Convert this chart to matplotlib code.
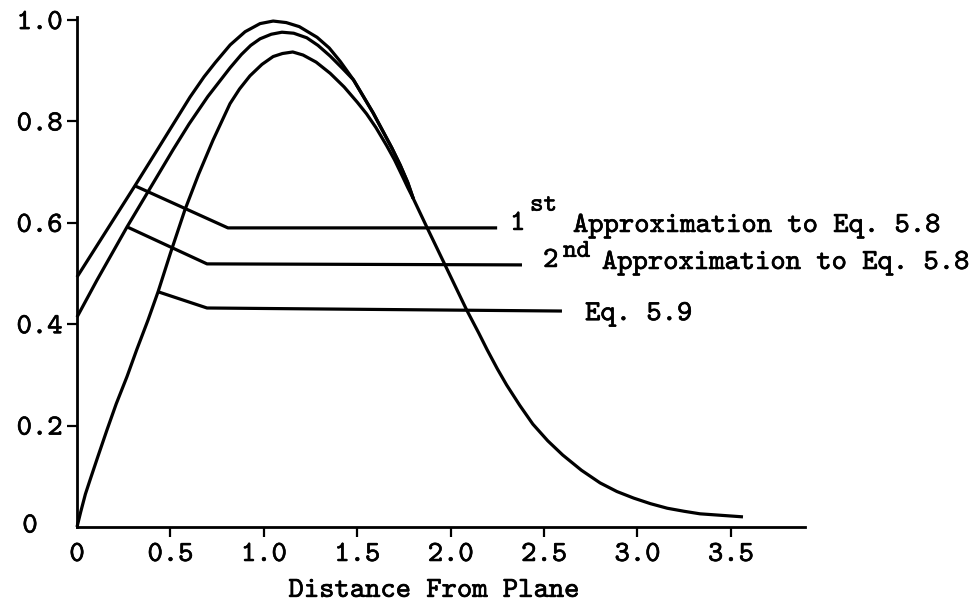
import matplotlib
matplotlib.use("Agg")
import matplotlib.pyplot as plt
import matplotlib.patheffects as pe

# ---- data ----
# 1st Approximation to Eq. 5.8 (merges with the other curves near x = 1.8)
x_first = [0.0, 0.31, 0.43, 0.605, 0.68, 0.74, 0.82, 0.90, 0.98, 1.05, 1.12, 1.19,
           1.285, 1.35, 1.41, 1.48, 1.585, 1.685, 1.73, 1.77, 1.80]
y_first = [0.493, 0.673, 0.744, 0.848, 0.888, 0.916, 0.951, 0.977, 0.993, 0.998, 0.995, 0.987,
           0.966, 0.945, 0.918, 0.882, 0.817, 0.748, 0.714, 0.680, 0.648]

# 2nd Approximation to Eq. 5.8
x_second = [0.0, 0.107, 0.268, 0.514, 0.60, 0.70, 0.82, 0.88, 0.93, 0.98, 1.04, 1.097,
            1.16, 1.23, 1.29, 1.355, 1.42, 1.48, 1.585, 1.685, 1.73, 1.77, 1.80]
y_second = [0.414, 0.487, 0.592, 0.744, 0.795, 0.849, 0.906, 0.932, 0.950, 0.963, 0.972, 0.976,
            0.974, 0.965, 0.950, 0.929, 0.905, 0.882, 0.817, 0.748, 0.714, 0.680, 0.648]

# Eq. 5.9
x_eq59 = [0.0, 0.02, 0.045, 0.07, 0.11, 0.16, 0.21, 0.268, 0.32, 0.38, 0.434, 0.50,
          0.578, 0.65, 0.728, 0.819, 0.87, 0.926, 0.99, 1.05, 1.10, 1.155, 1.21, 1.28,
          1.355, 1.43, 1.50, 1.55, 1.60, 1.658, 1.70, 1.747, 1.77, 1.80, 1.872, 1.97,
          2.086, 2.15, 2.195, 2.25, 2.30, 2.37, 2.44, 2.52, 2.60, 2.70, 2.80, 2.89,
          2.98, 3.07, 3.16, 3.25, 3.335, 3.45, 3.565]
y_eq59 = [0.0, 0.030, 0.065, 0.093, 0.137, 0.191, 0.243, 0.297, 0.350, 0.408, 0.464, 0.540,
          0.626, 0.695, 0.763, 0.835, 0.864, 0.890, 0.9125, 0.928, 0.934, 0.937, 0.931, 0.917,
          0.895, 0.868, 0.838, 0.815, 0.788, 0.752, 0.724, 0.688, 0.670, 0.648, 0.592, 0.517,
          0.428, 0.383, 0.350, 0.312, 0.280, 0.240, 0.203, 0.170, 0.142, 0.112, 0.087, 0.070,
          0.057, 0.046, 0.037, 0.031, 0.026, 0.023, 0.020]

# leader lines (from each curve to its label)
lead_first_x = [0.31, 0.808, 2.249]
lead_first_y = [0.673, 0.590, 0.590]
lead_second_x = [0.268, 0.696, 2.382]
lead_second_y = [0.592, 0.519, 0.517]
lead_eq59_x = [0.434, 0.696, 2.596]
lead_eq59_y = [0.464, 0.432, 0.426]

x_ticks = [0.0, 0.5, 1.0, 1.5, 2.0, 2.5, 3.0, 3.5]
x_tick_labels = ["0", "0.5", "1.0", "1.5", "2.0", "2.5", "3.0", "3.5"]
y_ticks = [0.2, 0.4, 0.6, 0.8, 1.0]
y_tick_labels = ["0.2", "0.4", "0.6", "0.8", "1.0"]
x_label = "Distance From Plane"

FONT = ["cmtt10", "DejaVu Sans Mono"]
FS = 21
FS_SUP = 18.5
LW = 2.3
BOLD = [pe.withStroke(linewidth=0.45, foreground="black")]

fig = plt.figure(figsize=(9.79, 6.03), dpi=100)
ax = fig.add_axes([77 / 979, 76 / 603, 728 / 979, 510 / 603])
ax.set_xlim(0, 3.897)
ax.set_ylim(0, 1.006)

line_kw = dict(color="black", lw=LW, solid_capstyle="butt", solid_joinstyle="round", clip_on=False)
ax.plot(x_first, y_first, **line_kw)
ax.plot(x_second, y_second, **line_kw)
ax.plot(x_eq59, y_eq59, **line_kw)
ax.plot(lead_first_x, lead_first_y, **line_kw)
ax.plot(lead_second_x, lead_second_y, **line_kw)
ax.plot(lead_eq59_x, lead_eq59_y, **line_kw)

for s in ("top", "right"):
    ax.spines[s].set_visible(False)
for s in ("left", "bottom"):
    ax.spines[s].set_linewidth(2.0)
    ax.spines[s].set_color("black")

ax.set_xticks(x_ticks)
ax.set_xticklabels(x_tick_labels, fontfamily=FONT, fontsize=FS)
ax.set_yticks(y_ticks)
ax.set_yticklabels(y_tick_labels, fontfamily=FONT, fontsize=FS)
ax.tick_params(axis="both", direction="out", length=7.5, width=1.6, colors="black")
ax.tick_params(axis="x", pad=4)
ax.tick_params(axis="y", pad=3)
ax.xaxis.get_major_ticks()[0].tick1line.set_visible(False)
for lab in ax.get_xticklabels() + ax.get_yticklabels():
    lab.set_path_effects(BOLD)

# "0" at the origin of the y axis
ax.text(-0.0646, 0.0, "0", transform=ax.transAxes, ha="center", va="center",
        fontfamily=FONT, fontsize=FS, path_effects=BOLD)

ax.set_xlabel(x_label, fontfamily=FONT, fontsize=FS, path_effects=BOLD)
ax.xaxis.set_label_coords(0.49, -0.137)
ax.xaxis.label.set_va("baseline")

txt_kw = dict(fontfamily=FONT, fontsize=FS, ha="left", va="baseline", color="black",
              path_effects=BOLD)
sup_kw = dict(txt_kw, fontsize=FS_SUP)
# 1st approximation label
ax.text(2.318, 0.586, "1", **txt_kw)
ax.text(2.425, 0.624, "st", **sup_kw)
ax.text(2.655, 0.582, "Approximation to Eq. 5.8", **txt_kw)
# 2nd approximation label
ax.text(2.495, 0.513, "2", **txt_kw)
ax.text(2.602, 0.533, "nd", **sup_kw)
ax.text(2.81, 0.509, "Approximation to Eq. 5.8", **txt_kw)
# Eq. 5.9 label
ax.text(2.72, 0.408, "Eq. 5.9", **txt_kw)

fig.savefig("out.png", dpi=100, facecolor="white")
